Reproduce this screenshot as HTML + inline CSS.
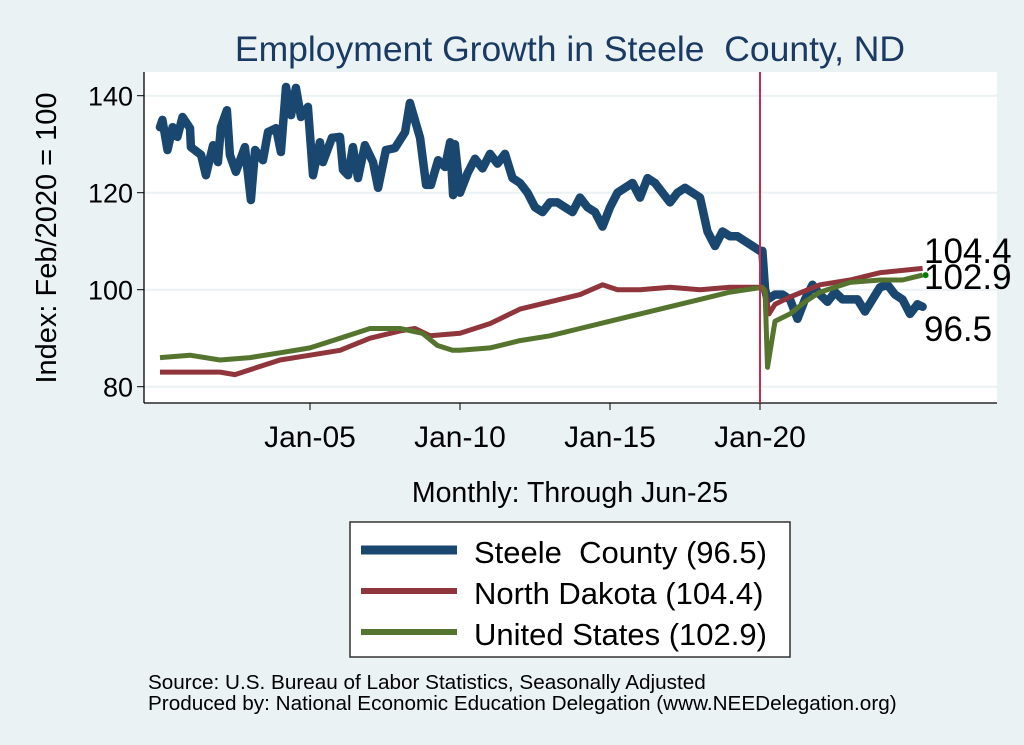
<!DOCTYPE html>
<html><head><meta charset="utf-8"><style>
html,body{margin:0;padding:0;background:#eaf2f3;}
svg{display:block;font-family:"Liberation Sans",sans-serif;}
</style></head><body>
<svg id="chart" width="1024" height="745" viewBox="0 0 1024 745">
<rect x="0" y="0" width="1024" height="745" fill="#eaf2f3"/>
<rect x="144" y="72" width="853" height="331" fill="#ffffff"/>
<text x="570" y="61" text-anchor="middle" font-size="35.5" fill="#1a3a63">Employment Growth in Steele&#160; County, ND</text>
<g id="grid"></g>
<g id="yaxis"></g>
<g id="xaxis"></g>
<text transform="translate(56,238) rotate(-90)" text-anchor="middle" font-size="29" fill="#000">Index: Feb/2020 = 100</text>
<text x="570" y="502" text-anchor="middle" font-size="28.5" fill="#000">Monthly: Through Jun-25</text>
<g id="series"></g>
<g id="labels"></g>
<g>
<rect x="350" y="522" width="440" height="135" fill="#fff" stroke="#333" stroke-width="1.5"/>
<line x1="361" y1="550" x2="457" y2="550" stroke="#1a476f" stroke-width="9"/>
<text x="474" y="563" font-size="31">Steele&#160; County (96.5)</text>
<line x1="361" y1="591" x2="457" y2="591" stroke="#90353b" stroke-width="6"/>
<text x="474" y="604" font-size="31">North Dakota (104.4)</text>
<line x1="361" y1="632" x2="457" y2="632" stroke="#55752f" stroke-width="6"/>
<text x="474" y="645" font-size="31">United States (102.9)</text>
</g>
<text x="148" y="689" font-size="20.7">Source: U.S. Bureau of Labor Statistics, Seasonally Adjusted</text>
<text x="148" y="710" font-size="20.7">Produced by: National Economic Education Delegation (www.NEEDelegation.org)</text>
</svg>
<script>
const yTicks=[80,100,120,140];
const xTickYears=[2005,2010,2015,2020];
const xTickLabels=["Jan-05","Jan-10","Jan-15","Jan-20"];
const steeleDates=[2000.0,2000.08,2000.25,2000.42,2000.58,2000.75,2001.0,2001.03,2001.37,2001.53,2001.77,2001.93,2002.03,2002.23,2002.33,2002.53,2002.83,2003.03,2003.17,2003.43,2003.6,2003.87,2004.03,2004.2,2004.37,2004.53,2004.7,2004.93,2005.1,2005.33,2005.43,2005.73,2006.0,2006.1,2006.27,2006.43,2006.6,2006.83,2007.1,2007.27,2007.53,2007.83,2008.17,2008.33,2008.67,2008.87,2009.03,2009.27,2009.5,2009.67,2009.77,2009.83,2010.0,2010.25,2010.5,2010.75,2011.0,2011.25,2011.5,2011.75,2012.0,2012.25,2012.5,2012.75,2013.0,2013.25,2013.5,2013.75,2014.0,2014.25,2014.5,2014.75,2015.0,2015.25,2015.5,2015.75,2016.0,2016.25,2016.5,2016.75,2017.0,2017.25,2017.5,2017.75,2018.0,2018.25,2018.5,2018.75,2019.0,2019.25,2019.5,2019.75,2020.0,2020.08,2020.17,2020.25,2020.5,2020.75,2021.0,2021.25,2021.5,2021.75,2022.0,2022.25,2022.5,2022.75,2023.0,2023.25,2023.5,2023.75,2024.0,2024.25,2024.5,2024.75,2025.0,2025.25,2025.42];
const steeleValues=[133.5,135,128.8,133.5,131.5,135.6,133.3,129.4,127.8,123.6,129.8,126.3,133.5,137,127.8,124.3,129.4,118.5,128.8,126.7,132.5,133.3,128.4,141.8,136,141.6,135.6,137.7,123.6,130.4,126.3,131.3,131.5,124.7,123.6,129.4,123,129.8,126.3,121,128.8,129.2,132.5,138.5,131.3,121.6,121.6,126.7,125.3,130.4,119.5,130,120,124,127,125,128,126,128,123,122,120,117,116,118,118,117,116,119,117,116,113,117,120,121,122,119,123,122,120,118,120,121,120,119,112,109,112,111,111,110,109,108,108,100,98,99,99,98,94,98,101,99,97.5,99.5,98,98,98,95.5,98,100.5,101,99,98,95,97,96.5];
const ndDates=[2000,2001,2002,2002.5,2003,2004,2005,2006,2007,2008,2008.5,2009,2010,2011,2012,2013,2014,2014.75,2015.25,2016,2017,2018,2019,2020.0,2020.17,2020.3,2020.5,2021,2022,2023,2024,2025.42];
const ndValues=[83,83,83,82.5,83.5,85.5,86.5,87.5,90,91.5,92,90.5,91,93,96,97.5,99,101,100,100,100.5,100,100.5,100.5,100,95,97,98.5,101,102,103.5,104.4];
const usDates=[2000,2001,2002,2003,2004,2005,2006,2007,2008,2008.75,2009.25,2009.75,2010,2011,2012,2013,2014,2015,2016,2017,2018,2019,2020.08,2020.17,2020.25,2020.5,2021,2021.5,2022,2023,2024,2024.75,2025.42];
const usValues=[86,86.5,85.5,86,87,88,90,92,92,91,88.5,87.5,87.5,88,89.5,90.5,92,93.5,95,96.5,98,99.5,100.5,99.5,84,93.5,95,97.5,99.5,101.5,102,102,103];
const endLabels=["104.4","102.9","96.5"];

const NS="http://www.w3.org/2000/svg";
function xs(t){return 310+(t-2005)*30;}
function ys(v){return 289.7-(v-100)*4.85;}
function mk(tag,attrs,parent){const e=document.createElementNS(NS,tag);for(const k in attrs)e.setAttribute(k,attrs[k]);parent.appendChild(e);return e;}
const grid=document.getElementById('grid'),ya=document.getElementById('yaxis'),xa=document.getElementById('xaxis'),ser=document.getElementById('series'),lab=document.getElementById('labels');
yTicks.forEach(v=>{
  const g=mk('line',{x1:144,x2:997,y1:ys(v),y2:ys(v),stroke:'#eaf2f3','stroke-width':2},grid);
  
  
  const t=mk('line',{x1:137,x2:144,y1:ys(v),y2:ys(v),stroke:'#000','stroke-width':1},ya);
  
  
  const l=mk('text',{x:133,y:ys(v)+10,'text-anchor':'end','font-size':27},ya);
  l.textContent=v;
  
  
});
const yl=mk('line',{x1:144,x2:144,y1:72,y2:403,stroke:'#000','stroke-width':1.3},ya);


const xl=mk('line',{x1:144,x2:997,y1:403,y2:403,stroke:'#000','stroke-width':1.3},xa);


xTickYears.forEach((yr,i)=>{
  const t=mk('line',{x1:xs(yr),x2:xs(yr),y1:403,y2:410,stroke:'#000','stroke-width':1},xa);
  
  
  const l=mk('text',{x:xs(yr),y:447,'text-anchor':'middle','font-size':30},xa);
  l.textContent=xTickLabels[i];
  
  
});
function path(d,v){return d.map((t,i)=>(i?'L':'M')+xs(t).toFixed(1)+','+ys(v[i]).toFixed(1)).join(' ');}
const p1=mk('path',{d:path(steeleDates,steeleValues),fill:'none',stroke:'#1a476f','stroke-width':8.5,'stroke-linejoin':'round','stroke-linecap':'round'},ser);


const p2=mk('path',{d:path(ndDates,ndValues),fill:'none',stroke:'#90353b','stroke-width':5,'stroke-linejoin':'round'},ser);


const p3=mk('path',{d:path(usDates,usValues),fill:'none',stroke:'#55752f','stroke-width':5,'stroke-linejoin':'round'},ser);


const dot=mk('circle',{cx:xs(usDates[usDates.length-1])+3,cy:ys(usValues[usValues.length-1]),r:3,fill:'#008000'},ser);


const vl=mk('line',{x1:xs(2020),x2:xs(2020),y1:72,y2:403,stroke:'#d0284c','stroke-width':2},ser);


const ly=[263,289,341];
endLabels.forEach((s,i)=>{
  const l=mk('text',{x:924,y:ly[i],'font-size':35},lab);
  l.textContent=s;
  
  
});
</script>
</body></html>
